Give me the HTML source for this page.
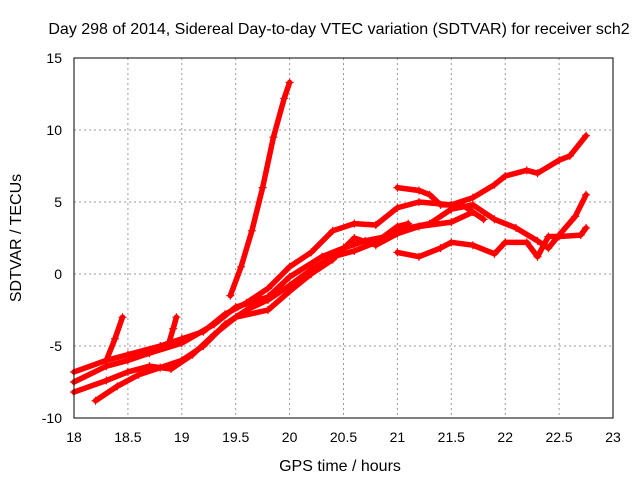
<!DOCTYPE html>
<html><head><meta charset="utf-8"><style>
body{margin:0;background:#fff;}
svg{display:block;font-family:"Liberation Sans",sans-serif;}
</style></head><body>
<svg id="chart" width="640" height="480">
<text x="339" y="34" font-size="16" text-anchor="middle">Day 298 of 2014, Sidereal Day-to-day VTEC variation (SDTVAR) for receiver sch2</text>
<text x="340" y="471" font-size="16" text-anchor="middle">GPS time / hours</text>
<text transform="translate(21,238) rotate(-90)" font-size="16" text-anchor="middle">SDTVAR / TECUs</text>
<g id="grid"></g><g id="series"></g>
<rect x="74" y="58" width="539" height="360" fill="none" stroke="#000" stroke-width="1"/>
</svg>
<script>
const xTicks=[18,18.5,19,19.5,20,20.5,21,21.5,22,22.5,23];
const yTicks=[-10,-5,0,5,10,15];
const aX=[18.0,18.3,18.5,18.8,19.0,19.2,19.4,19.6,19.8,20.0,20.2,20.4,20.6,20.8,21.0,21.2,21.5,21.7,21.9,22.0,22.2,22.3,22.5,22.6,22.75];
const aY=[-6.8,-6.0,-5.6,-5.0,-4.5,-4.0,-2.8,-2.0,-1.0,0.5,1.5,3.0,3.5,3.4,4.6,5.0,4.8,5.3,6.2,6.8,7.2,7.0,7.9,8.2,9.6];
const bX=[18.0,18.3,18.5,18.7,19.0,19.3,19.5,19.8,20.0,20.3,20.5,20.7,20.9,21.1,21.3,21.5,21.7,21.9,22.1,22.3,22.4,22.5,22.65,22.75];
const bY=[-7.5,-6.4,-6.0,-5.5,-4.8,-3.5,-2.3,-1.6,-0.2,1.2,1.8,2.3,2.6,3.2,3.5,4.5,4.8,3.8,3.2,2.3,1.8,2.7,4.0,5.5];
const cX=[18.0,18.3,18.5,18.7,18.9,19.1,19.3,19.5,19.8,20.0,20.2,20.4,20.6,20.8,21.0,21.2,21.5,21.7];
const cY=[-8.2,-7.4,-6.8,-6.4,-6.6,-5.6,-4.2,-3.0,-2.5,-1.2,0.0,1.0,2.5,2.0,2.8,3.3,3.6,4.3];
const dX=[18.2,18.4,18.6,18.8,19.0,19.2,19.4,19.6,19.8,20.0,20.2,20.4,20.6,20.8,21.0,21.1];
const dY=[-8.8,-7.8,-7.0,-6.5,-6.0,-5.0,-3.5,-2.5,-1.8,-0.8,0.3,1.2,1.6,2.2,3.3,3.5];
const eX=[21.0,21.2,21.4,21.5,21.7,21.9,22.0,22.2,22.3,22.4,22.5,22.7,22.75];
const eY=[1.5,1.2,1.8,2.2,2.0,1.4,2.2,2.2,1.2,2.6,2.6,2.7,3.2];
const fX=[19.45,19.55,19.65,19.75,19.85,19.95,20.0];
const fY=[-1.5,0.5,3.0,6.0,9.5,12.2,13.3];
const gX=[18.3,18.38,18.45];const gY=[-6.0,-4.5,-3.0];
const hX=[18.88,18.92,18.95];const hY=[-4.8,-3.8,-3.0];
const iX=[21.0,21.2,21.3,21.4,21.6,21.8];const iY=[6.0,5.8,5.5,4.8,4.8,3.8];
const series=[[aX,aY],[bX,bY],[cX,cY],[dX,dY],[eX,eY],[fX,fY],[gX,gY],[hX,hY],[iX,iY]];
const X=v=>74+(v-18)*539/5, Y=v=>418-(v+10)*360/25;
const NS="http://www.w3.org/2000/svg";
const grid=document.getElementById('grid'), sg=document.getElementById('series');
function mk(t,a,p){const e=document.createElementNS(NS,t);for(const k in a)e.setAttribute(k,a[k]);p.appendChild(e);return e;}
xTicks.forEach(t=>{
 if(t>18&&t<23){const l=mk('line',{x1:X(t),x2:X(t),y1:58,y2:418,stroke:'#999','stroke-dasharray':'2,3'},grid);
 
 }
 const tx=mk('text',{x:X(t),y:442,'font-size':14,'text-anchor':'middle'},grid);tx.textContent=t;
 
 
});
yTicks.forEach(t=>{
 if(t>-10&&t<15){const l=mk('line',{x1:74,x2:613,y1:Y(t),y2:Y(t),stroke:'#999','stroke-dasharray':'2,3'},grid);
 
 }
 const tx=mk('text',{x:62,y:Y(t)+5,'font-size':14,'text-anchor':'end'},grid);tx.textContent=t;
 
 
});
series.forEach((s,i)=>{
 const pts=s[0].map((x,j)=>X(x)+','+Y(s[1][j])).join(' ');
 const pl=mk('polyline',{points:pts,fill:'none',stroke:'#f00','stroke-width':5.5,'stroke-linejoin':'round','stroke-linecap':'round'},sg);
 
 
 s[0].forEach((x,j)=>{const px=X(x),py=Y(s[1][j]);
  const p=mk('path',{d:`M${px-4},${py}h8M${px},${py-4}v8`,stroke:'#f00','stroke-width':1.2},sg);
  
  
 });
});
</script>
</body></html>
